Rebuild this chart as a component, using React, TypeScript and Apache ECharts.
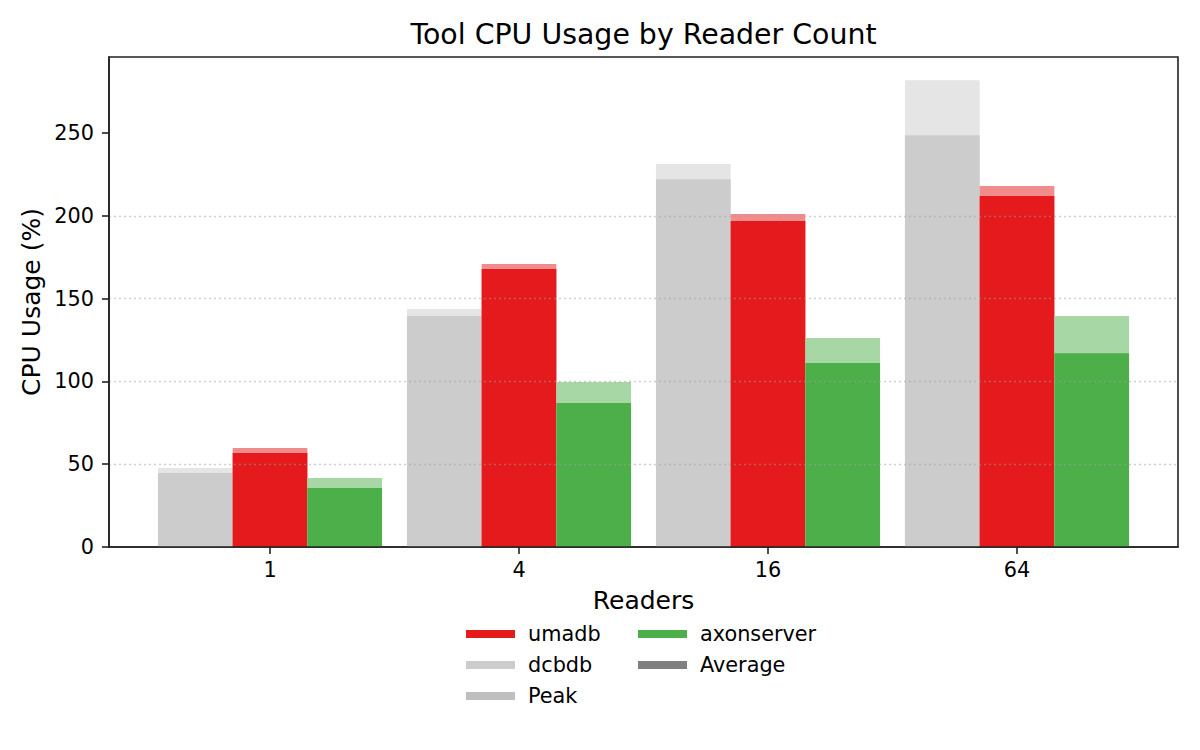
import React, { useEffect, useRef } from 'react';
import * as echarts from 'echarts';

const FONT = 'DejaVu Sans';

const categories = ['1', '4', '16', '64'];
const dcbdbAvg = [44.7, 139.5, 222.2, 248.8];
const dcbdbPeak = [47.7, 143.7, 231.3, 282.0];
const umadbAvg = [56.8, 167.9, 196.9, 212.0];
const umadbPeak = [59.8, 170.9, 201.1, 218.0];
const axonAvg = [35.6, 87.0, 111.1, 117.1];
const axonPeak = [41.7, 99.6, 126.2, 139.5];
const yTicks = [0, 50, 100, 150, 200, 250];
const xTicks = [0, 1, 2, 3];

const BAR_W = 0.3;

const makeRender = (offset: number, peakColor: string, avgColor: string) => (params: any, api: any) => {
  const idx = api.value(0);
  const avg = api.value(1);
  const peak = api.value(2);
  const x0 = idx + offset - BAR_W / 2;
  const x1 = idx + offset + BAR_W / 2;
  const pTop = api.coord([x0, peak]);
  const aTop = api.coord([x0, avg]);
  const base = api.coord([x1, 0]);
  return {
    type: 'group',
    children: [
      {
        type: 'rect',
        shape: { x: pTop[0], y: pTop[1], width: base[0] - pTop[0], height: base[1] - pTop[1] },
        style: { fill: peakColor },
      },
      {
        type: 'rect',
        shape: { x: aTop[0], y: aTop[1], width: base[0] - aTop[0], height: base[1] - aTop[1] },
        style: { fill: avgColor },
      },
    ],
  };
};

const toData = (avg: number[], peak: number[]) => categories.map((_, i) => [i, avg[i], peak[i]]);

export default function App() {
  const ref = useRef<HTMLDivElement>(null);
  useEffect(() => {
    if (!ref.current) return;
    const chart = echarts.init(ref.current, null, { renderer: 'svg' });
    const axisColor = '#222';
    const legendCommon = {
      orient: 'vertical',
      top: 623,
      padding: 0,
      itemWidth: 49,
      itemHeight: 8,
      itemGap: 9,
      icon: 'rect',
      selectedMode: false,
      textStyle: { fontFamily: FONT, fontSize: 20.8, lineHeight: 22, color: '#000', padding: [0, 0, 0, 8] },
    };
    chart.setOption({
      animation: false,
      textStyle: { fontFamily: FONT },
      grid: {
        left: 109,
        right: 22,
        top: 57,
        bottom: 203,
        show: true,
        borderColor: axisColor,
        borderWidth: 1.6,
        containLabel: false,
        outerBoundsMode: 'none',
      },
      xAxis: {
        type: 'value',
        min: -0.6466,
        max: 3.6466,
        z: 3,
        axisLine: { show: true, onZero: false, lineStyle: { color: axisColor, width: 1.6 } },
        axisTick: { show: true, customValues: xTicks, length: 7, lineStyle: { color: axisColor, width: 1.6 } },
        axisLabel: {
          customValues: xTicks,
          formatter: (v: number) => categories[Math.round(v)] ?? '',
          margin: 12,
          fontSize: 20.8,
          fontFamily: FONT,
          color: '#000',
        },
        splitLine: { show: false },
      },
      yAxis: {
        type: 'value',
        min: 0,
        max: 296,
        interval: 50,
        z: 3,
        axisLine: { show: true, onZero: false, lineStyle: { color: axisColor, width: 1.6 } },
        axisTick: { show: true, customValues: yTicks, length: 7, lineStyle: { color: axisColor, width: 1.6 } },
        axisLabel: {
          customValues: yTicks,
          margin: 15,
          fontSize: 20.8,
          fontFamily: FONT,
          color: '#000',
        },
        splitLine: {
          show: true,
          showMinLine: false,
          showMaxLine: false,
          lineStyle: { type: [2, 3], color: 'rgba(160,160,160,0.5)', width: 1.3 },
        },
      },
      legend: [
        { ...legendCommon, left: 466, data: ['umadb', 'dcbdb', 'Peak'] },
        { ...legendCommon, left: 638, data: ['axonserver', 'Average'] },
      ],
      graphic: [
        {
          type: 'text',
          x: 643.5,
          y: 34,
          style: {
            text: 'Tool CPU Usage by Reader Count',
            fontFamily: FONT,
            fontSize: 28.4,
            fill: '#000',
            align: 'center',
            verticalAlign: 'middle',
          },
        },
        {
          type: 'text',
          x: 643.5,
          y: 600.5,
          style: {
            text: 'Readers',
            fontFamily: FONT,
            fontSize: 25,
            fill: '#000',
            align: 'center',
            verticalAlign: 'middle',
          },
        },
        {
          type: 'text',
          x: 31,
          y: 302,
          rotation: Math.PI / 2,
          style: {
            text: 'CPU Usage (%)',
            fontFamily: FONT,
            fontSize: 25,
            fill: '#000',
            align: 'center',
            verticalAlign: 'middle',
          },
        },
      ],
      series: [
        {
          name: 'dcbdb',
          type: 'custom',
          itemStyle: { color: '#cccccc' },
          renderItem: makeRender(-0.3, '#e5e5e5', '#cccccc'),
          data: toData(dcbdbAvg, dcbdbPeak),
        },
        {
          name: 'umadb',
          type: 'custom',
          itemStyle: { color: '#e41a1c' },
          renderItem: makeRender(0, '#f18c8d', '#e41a1c'),
          data: toData(umadbAvg, umadbPeak),
        },
        {
          name: 'axonserver',
          type: 'custom',
          itemStyle: { color: '#4daf4a' },
          renderItem: makeRender(0.3, '#a6d7a4', '#4daf4a'),
          data: toData(axonAvg, axonPeak),
        },
        {
          name: 'Peak',
          type: 'custom',
          itemStyle: { color: '#bfbfbf' },
          renderItem: () => null,
          data: [],
        },
        {
          name: 'Average',
          type: 'custom',
          itemStyle: { color: '#808080' },
          renderItem: () => null,
          data: [],
        },
      ],
    });
    return () => chart.dispose();
  }, []);
  return (
    <div
      ref={ref}
      style={{ position: 'fixed', left: 0, top: 0, width: 1200, height: 750, background: '#fff' }}
    />
  );
}
